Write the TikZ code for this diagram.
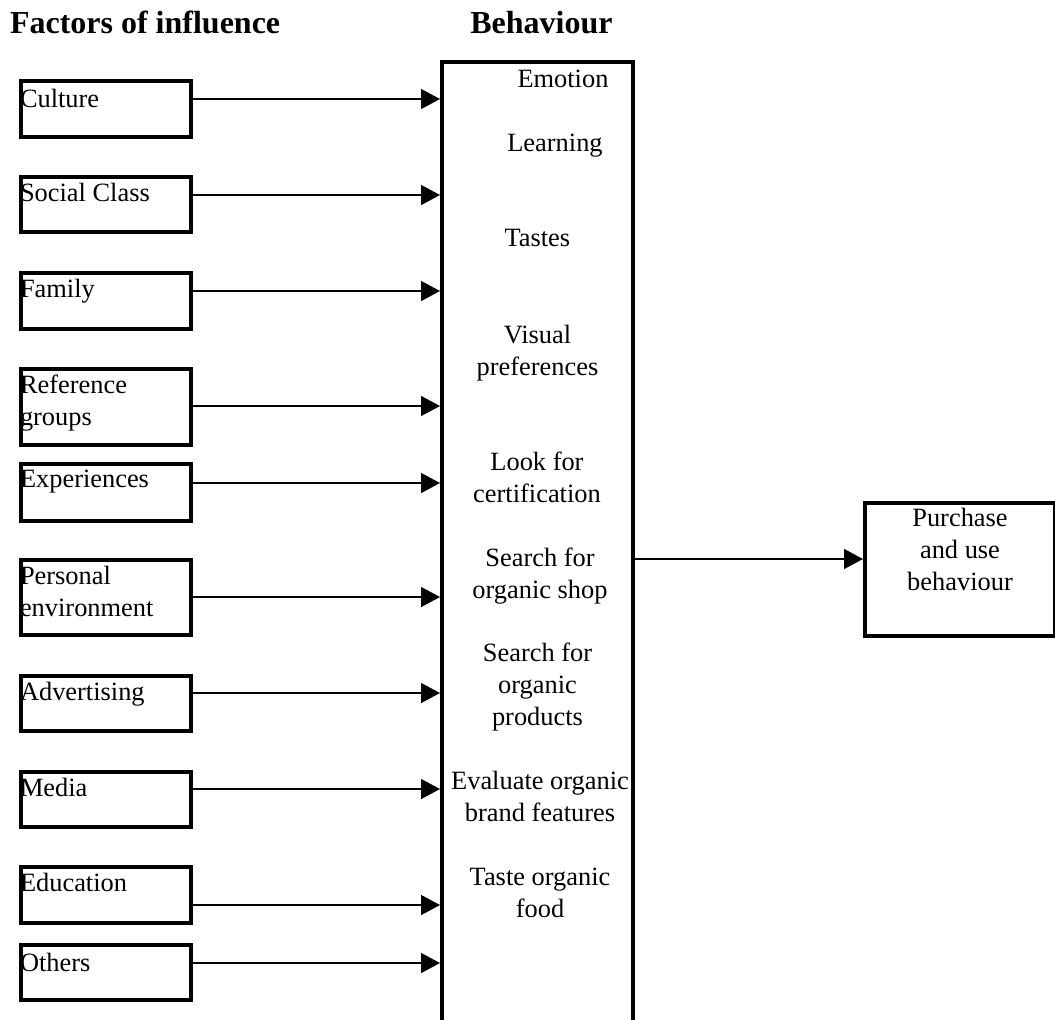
\documentclass[tikz,border=0pt]{standalone}
\usepackage{fontspec}
\setmainfont{Liberation Serif}
\usetikzlibrary{arrows.meta}
\begin{document}
\begin{tikzpicture}[x=1pt,y=-1pt,
  every node/.style={inner sep=0pt, outer sep=0pt},
  body/.style={font=\fontsize{26.4}{32}\selectfont},
  txt/.style={body, align=center, anchor=base},
  ltxt/.style={body, align=left, anchor=base west},
  head/.style={font=\fontsize{32}{38}\selectfont\bfseries, anchor=base},
  factor/.style={draw, line width=4pt, minimum width=170.8pt},
  frame/.style={line width=4pt},
  link/.style={line width=1.3pt, shorten >=2pt, -{Triangle[length=19pt,width=20pt]}}]

\useasboundingbox (0,0) rectangle (1055,1020);
\clip (0,0) rectangle (1055,1020);

% headings
\node[head, anchor=base west] (hfac) at (10,33.3) {Factors of influence};
\node[head] (hbeh) at (541.5,33.3) {Behaviour};

% behaviour column, open at the bottom
\node[minimum width=191pt, minimum height=968pt] (beh) at (537.5,546) {};
\draw[frame] (beh.south west) -- (beh.north west) -- (beh.north east) -- (beh.south east);

% (multi-line labels are placed by the baseline of their last line)
\node[txt] (b1) at (563,87.3) {Emotion};
\node[txt] (b2) at (555,151.7) {Learning};
\node[txt] (b3) at (537.3,246.7) {Tastes};
\node[txt] (b4) at (537.5,375) {Visual\\preferences};
\node[txt] (b5) at (537,502.7) {Look for\\certification};
\node[txt] (b6) at (540,598.3) {Search for\\organic shop};
\node[txt] (b7) at (537.5,725) {Search for\\organic\\products};
\node[txt] (b8) at (540,821.7) {Evaluate organic\\brand features};
\node[txt] (b9) at (540,917.7) {Taste organic\\food};

% factors of influence with their arrows
\foreach \n/\c/\h/\b/\a/\t in {
  cul/108.75/56.5/107.3/99/Culture,
  soc/204.5/55/201.7/195/Social Class,
  fam/301/56/297/291/Family,
  ref/407/76/425/406/{Reference\\groups},
  exp/492.5/57/487.7/483/Experiences,
  per/597.5/75/616.7/597/{Personal\\environment},
  adv/703.5/55/700.7/693/Advertising,
  med/799.5/55/796.7/789/Media,
  edu/895/56/891/905/Education,
  oth/972.5/55/971.7/963/Others}{
  \node[factor, minimum height=\h pt] (\n) at (105.9,\c) {};
  \node[ltxt] (\n-t) at (20,\b) {\t};
  \coordinate (\n-a) at (0,\a);
  \draw[link] (\n.east |- \n-a) -- (beh.west |- \n-a);
}

% outcome
\node[draw, line width=4pt, minimum width=190pt, minimum height=133.5pt] (pur) at (960,569.25) {};
\node[txt] (pur-t) at (960,590) {Purchase\\and use\\behaviour};
\coordinate (pur-a) at (0,559);
\draw[link] (beh.east |- pur-a) -- (pur.west |- pur-a);
\end{tikzpicture}
\end{document}
